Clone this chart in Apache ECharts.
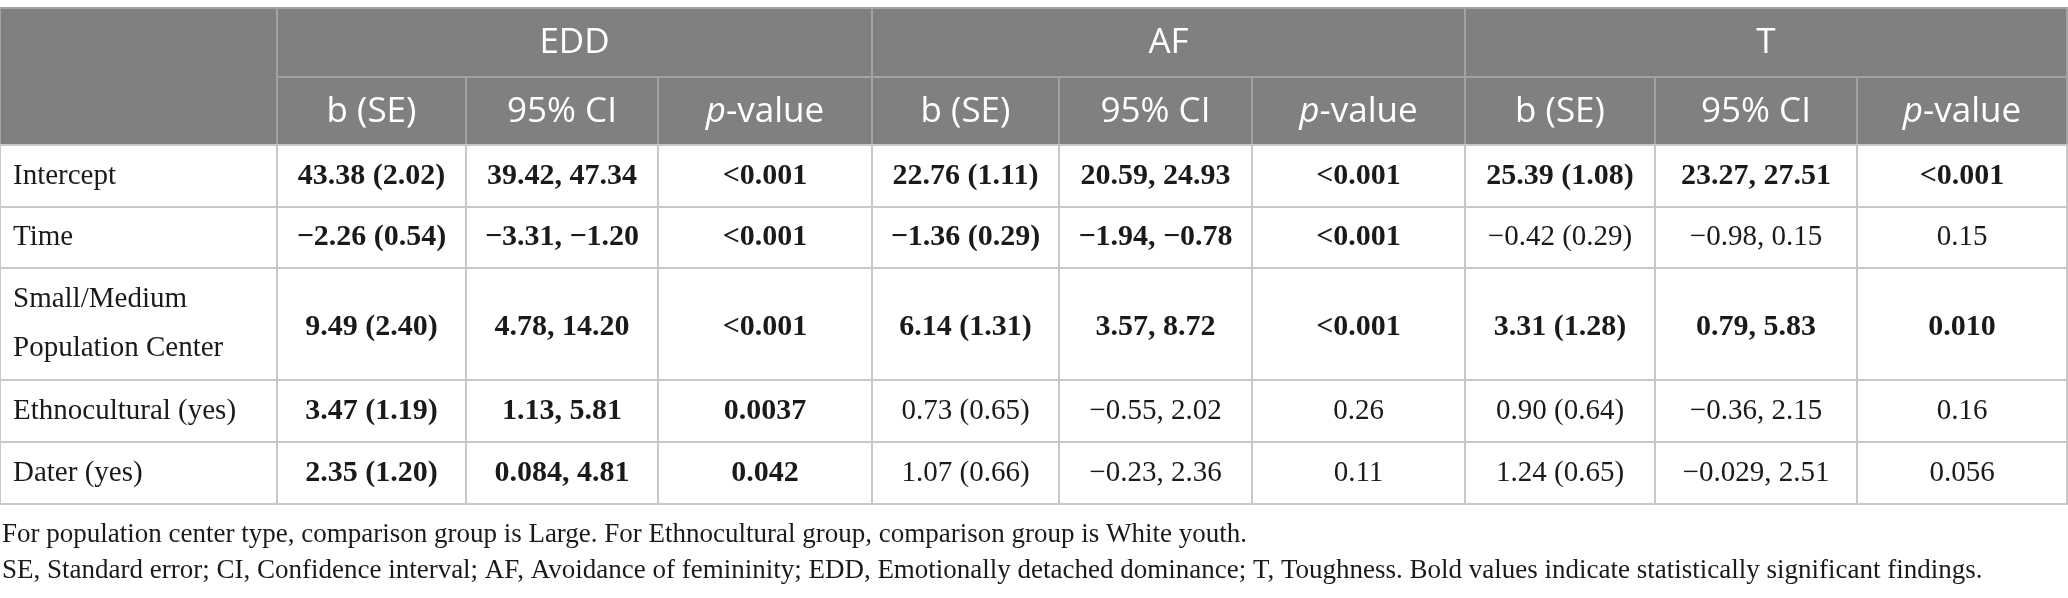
<!DOCTYPE html>
<html lang="en">
<head>
    <meta charset="UTF-8">
    <title>Regression results: EDD, AF, T</title>
    <script src="https://cdn.jsdelivr.net/npm/echarts/dist/echarts.min.js"></script>
    <style>
        html, body { margin: 0; padding: 0; background: #fff; }
        #chart { width: 2068px; height: 598px; }
    </style>
</head>
<body>
    <div id="chart"></div>
    <script>
        // table content
        var groups = ['EDD', 'AF', 'T'];
        var subHeads = ['b (SE)', '95% CI', 'p-value'];
        var rowLabels = ['Intercept', 'Time', 'Small/Medium\nPopulation Center', 'Ethnocultural (yes)', 'Dater (yes)'];

        var eddB  = ['43.38 (2.02)', '\u22122.26 (0.54)', '9.49 (2.40)', '3.47 (1.19)', '2.35 (1.20)'];
        var eddCI = ['39.42, 47.34', '\u22123.31, \u22121.20', '4.78, 14.20', '1.13, 5.81', '0.084, 4.81'];
        var eddP  = ['<0.001', '<0.001', '<0.001', '0.0037', '0.042'];
        var eddSig = [1, 1, 1, 1, 1];

        var afB  = ['22.76 (1.11)', '\u22121.36 (0.29)', '6.14 (1.31)', '0.73 (0.65)', '1.07 (0.66)'];
        var afCI = ['20.59, 24.93', '\u22121.94, \u22120.78', '3.57, 8.72', '\u22120.55, 2.02', '\u22120.23, 2.36'];
        var afP  = ['<0.001', '<0.001', '<0.001', '0.26', '0.11'];
        var afSig = [1, 1, 1, 0, 0];

        var tB  = ['25.39 (1.08)', '\u22120.42 (0.29)', '3.31 (1.28)', '0.90 (0.64)', '1.24 (0.65)'];
        var tCI = ['23.27, 27.51', '\u22120.98, 0.15', '0.79, 5.83', '\u22120.36, 2.15', '\u22120.029, 2.51'];
        var tP  = ['<0.001', '0.15', '0.010', '0.16', '0.056'];
        var tSig = [1, 0, 1, 0, 0];

        var notes = [
            'For population center type, comparison group is Large. For Ethnocultural group, comparison group is White youth.',
            'SE, Standard error; CI, Confidence interval; AF, Avoidance of femininity; EDD, Emotionally detached dominance; T, Toughness. Bold values indicate statistically significant findings.'
        ];

        // layout (pixel units of the axes)
        var colEdges = [0, 277, 466, 658, 872, 1059, 1252, 1465, 1655, 1857, 2067];
        var rowEdges = [8, 77, 145, 207, 268, 380, 442, 504];

        var HEAD_BG = '#808080', HEAD_LINE = '#a3a3a3', BODY_LINE = '#c8c8c8';
        var SANS = '"Open Sans", "Noto Sans", sans-serif';
        var SERIF = '"Liberation Serif", "DejaVu Serif", serif';

        // build the list of cells: [col0, col1, row0, row1]
        var cells = [];
        function addCell(c0, c1, r0, r1, text, kind, bold) {
            cells.push({ value: [c0, c1, r0, r1], text: text, kind: kind, bold: bold });
        }
        addCell(0, 1, 0, 2, '', 'head');
        groups.forEach(function (g, gi) {
            addCell(1 + gi * 3, 4 + gi * 3, 0, 1, g, 'head');
            subHeads.forEach(function (s, si) {
                addCell(1 + gi * 3 + si, 2 + gi * 3 + si, 1, 2, s, 'sub');
            });
        });
        var blocks = [[eddB, eddCI, eddP, eddSig], [afB, afCI, afP, afSig], [tB, tCI, tP, tSig]];
        rowLabels.forEach(function (lab, ri) {
            addCell(0, 1, 2 + ri, 3 + ri, lab, 'label', false);
            blocks.forEach(function (b, bi) {
                for (var k = 0; k < 3; k++) {
                    addCell(1 + bi * 3 + k, 2 + bi * 3 + k, 2 + ri, 3 + ri, b[k][ri], 'cell', b[3][ri] === 1);
                }
            });
        });

        function renderCell(params, api) {
            var cell = cells[params.dataIndex];
            var p0 = api.coord([colEdges[api.value(0)], rowEdges[api.value(2)]]);
            var p1 = api.coord([colEdges[api.value(1)], rowEdges[api.value(3)]]);
            var x = p0[0], y = p0[1], w = p1[0] - p0[0], h = p1[1] - p0[1];
            var isHead = cell.kind === 'head' || cell.kind === 'sub';
            var children = [{
                type: 'rect',
                shape: { x: x, y: y, width: w, height: h },
                style: { fill: isHead ? HEAD_BG : '#fff', stroke: isHead ? HEAD_LINE : BODY_LINE, lineWidth: 2 }
            }];
            var ts;
            if (isHead) {
                var base = { fontFamily: SANS, fontSize: 35, fill: '#fff' };
                ts = { x: x + w / 2, y: y + h / 2 + 1, align: 'center', verticalAlign: 'middle', fill: '#fff',
                       fontFamily: SANS, fontSize: 35 };
                if (cell.text === 'p-value') {
                    ts.text = '{i|p}{n|-value}';
                    ts.rich = {
                        i: Object.assign({}, base, { fontStyle: 'italic' }),
                        n: base
                    };
                } else {
                    ts.text = cell.text;
                }
            } else if (cell.kind === 'label') {
                ts = { text: cell.text, x: x + 13, y: y + h / 2, align: 'left', verticalAlign: 'middle',
                       fontFamily: SERIF, fontSize: 29, lineHeight: 49, fill: '#1a1a1a' };
            } else {
                ts = { text: cell.text, x: x + w / 2, y: y + h / 2 + (h > 80 ? 3 : 0), align: 'center', verticalAlign: 'middle',
                       fontFamily: SERIF, fontSize: cell.bold ? 30 : 29, fontWeight: cell.bold ? 'bold' : 'normal', fill: '#1a1a1a' };
            }
            if (ts.text) children.push({ type: 'text', style: ts });
            return { type: 'group', children: children };
        }

        var chart = echarts.init(document.getElementById('chart'), null, { renderer: 'canvas' });
        chart.setOption({
            animation: false,
            grid: { left: 0, right: 0, top: 0, bottom: 0 },
            xAxis: { type: 'value', min: 0, max: 2068, show: false },
            yAxis: { type: 'value', min: 0, max: 598, inverse: true, show: false },
            graphic: notes.map(function (t, i) {
                return {
                    type: 'text', left: 2, top: 521 + i * 36,
                    style: { text: t, fontFamily: SERIF, fontSize: 27, fill: '#1a1a1a' }
                };
            }),
            series: [{
                type: 'custom',
                coordinateSystem: 'cartesian2d',
                renderItem: renderCell,
                data: cells,
                silent: true
            }]
        });
    </script>
</body>
</html>
